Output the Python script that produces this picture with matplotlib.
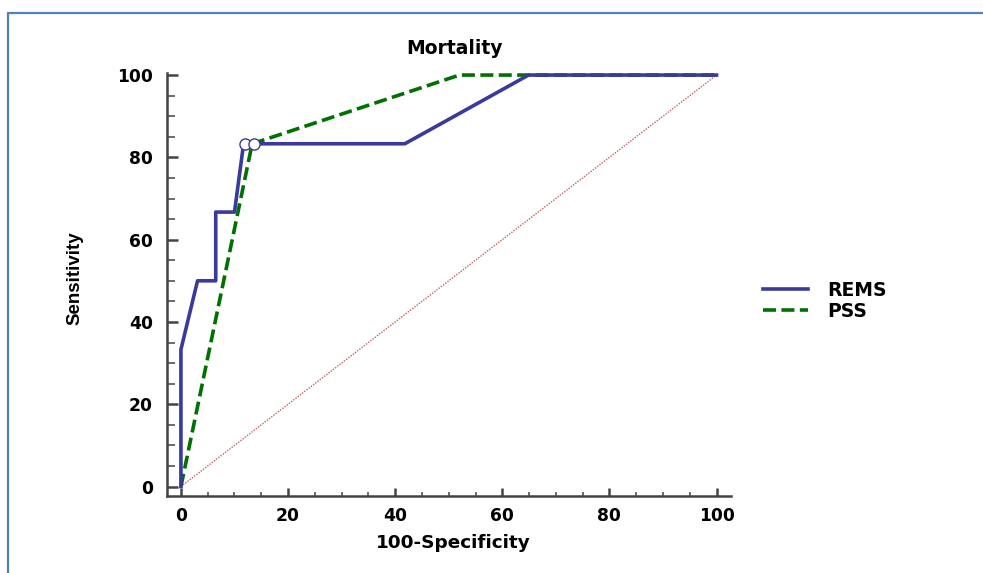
import matplotlib
matplotlib.use("Agg")
import matplotlib.pyplot as plt
from matplotlib.lines import Line2D
from matplotlib.ticker import MultipleLocator

# ---- data ----
rems_x = [0, 0, 3.1, 6.5, 6.5, 10.0, 11.7, 41.8, 64.9, 100]
rems_y = [0, 33.3, 50.0, 50.0, 66.7, 66.7, 83.3, 83.3, 100, 100]
pss_x = [0, 13.3, 52.0, 100]
pss_y = [0, 83.3, 100, 100]
crit_x = [11.9, 13.6]
crit_y = [83.3, 83.3]
ticks = [0, 20, 40, 60, 80, 100]

W, H = 983, 573
fig = plt.figure(figsize=(W / 100, H / 100), dpi=100)
fig.patch.set_facecolor("white")

wide = ["DejaVu Sans"]
sans = ["Liberation Sans", "DejaVu Sans"]

BLUE = "#3a3a9c"
GREEN = "#007000"
DASH = (0, (3.6, 1.5))
LW = 2.6

# frame border
fig.add_artist(Line2D([7.5 / W, 7.5 / W], [0, 1 - 12.5 / H], transform=fig.transFigure,
                      color="#4f81bd", lw=1.6, solid_capstyle="butt"))
fig.add_artist(Line2D([6.7 / W, 1], [1 - 12.5 / H, 1 - 12.5 / H], transform=fig.transFigure,
                      color="#4f81bd", lw=1.6, solid_capstyle="butt"))

ax = fig.add_axes([167 / W, (H - 496) / H, 564 / W, 423 / H])
ax.set_xlim(-2.6, 102.7)
ax.set_ylim(-2.3, 100.5)

ax.plot([0, 100], [0, 100], color="#c06060", lw=1.0, ls=(0, (1, 1)), zorder=1)
ax.plot(pss_x, pss_y, color=GREEN, lw=LW, ls=DASH, zorder=2, label="PSS")
ax.plot(rems_x, rems_y, color=BLUE, lw=LW, zorder=3, label="REMS")
ax.plot(crit_x, crit_y, ls="none", marker="o", ms=8, mfc="white", mec=BLUE,
        mew=1.0, zorder=4)

for s in ["top", "right"]:
    ax.spines[s].set_visible(False)
for s in ["left", "bottom"]:
    ax.spines[s].set_color("#444444")
    ax.spines[s].set_linewidth(1.8)

ax.set_xticks(ticks)
ax.set_yticks(ticks)
ax.xaxis.set_minor_locator(MultipleLocator(5))
ax.yaxis.set_minor_locator(MultipleLocator(5))
ax.tick_params(axis="both", which="both", direction="in", color="#444444")
ax.tick_params(axis="y", which="major", length=8, width=1.8, pad=10)
ax.tick_params(axis="y", which="minor", length=5.5, width=1.1)
ax.tick_params(axis="x", which="major", length=5.5, width=1.8, pad=8)
ax.tick_params(axis="x", which="minor", length=3, width=1.1)
for lab in ax.get_xticklabels() + ax.get_yticklabels():
    lab.set_fontfamily(wide)
    lab.set_fontweight("bold")
    lab.set_fontsize(12.3)

fig.text(455 / W, 1 - 49 / H, "Mortality", ha="center", va="center",
         fontsize=13.5, fontweight="bold", family=wide)
fig.text(453 / W, 1 - 543 / H, "100-Specificity", ha="center", va="center",
         fontsize=13.3, fontweight="bold", family=wide)
fig.text(75 / W, 1 - 278 / H, "Sensitivity", ha="center", va="center", rotation=90,
         fontsize=13.5, fontweight="bold", family=sans)

handles = [Line2D([], [], color=BLUE, lw=LW),
           Line2D([], [], color=GREEN, lw=LW, ls=DASH)]
leg = fig.legend(handles, ["REMS", "PSS"], loc="upper left",
                 bbox_to_anchor=(763 / W, 1 - 281 / H), frameon=False,
                 prop={"family": wide, "weight": "bold", "size": 13.5},
                 handlelength=2.4, handletextpad=1.05, labelspacing=0.1,
                 borderaxespad=0, borderpad=0)

fig.savefig("out.png", dpi=100, facecolor="white")
